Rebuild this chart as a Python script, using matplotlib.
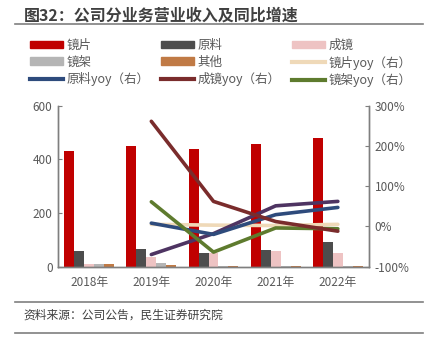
import matplotlib.pyplot as plt
import numpy as np
from matplotlib.lines import Line2D

plt.rcParams['font.family'] = ['Noto Sans CJK SC', 'DejaVu Sans']

years = ['2018年', '2019年', '2020年', '2021年', '2022年']

# 营业收入（百万元）
lens = [431, 450, 438, 457, 480]
raw = [60, 65, 50, 63, 91]
glasses = [11, 34, 52, 59, 51]
frames = [8, 12, 3, 2, 2]
others = [10, 5, 3, 3, 4]

# 同比增速（%），2019年起
lens_yoy = [5, 3, 2, 5]
raw_yoy = [8, -20, 29, 47]
glasses_yoy = [261, 62, 12, -12]
frames_yoy = [61, -64, -4, -6]
others_yoy = [-70, -18, 51, 62]

bar_names = ['镜片', '原料', '成镜', '镜架', '其他']
bar_colors = ['#C00000', '#4D4D4D', '#EEC3C3', '#B5B5B5', '#C07A45']
line_names = ['镜片yoy（右）', '原料yoy（右）', '成镜yoy（右）', '镜架yoy（右）']
line_colors = ['#EFD9B8', '#2E4B7C', '#7A2C2C', '#5E7B2E']
other_color = '#4E3462'

fig = plt.figure(figsize=(4.27, 3.44), dpi=100)
ax = fig.add_axes([0.136, 0.225, 0.728, 0.468])
ax2 = ax.twinx()

x = np.arange(len(years))
w = 0.16
for i, (vals, c) in enumerate(zip([lens, raw, glasses, frames, others], bar_colors)):
    ax.bar(x + (i - 2) * w, vals, width=w, color=c, zorder=2)

xl = x[1:]
lw = 2.6
ax2.plot(xl, lens_yoy, color=line_colors[0], lw=lw, solid_capstyle='round')
ax2.plot(xl, others_yoy, color=other_color, lw=lw, solid_capstyle='round')
ax2.plot(xl, raw_yoy, color=line_colors[1], lw=lw, solid_capstyle='round')
ax2.plot(xl, frames_yoy, color=line_colors[3], lw=lw, solid_capstyle='round')
ax2.plot(xl, glasses_yoy, color=line_colors[2], lw=lw, solid_capstyle='round')

ax.set_xlim(-0.5, 4.5)
ax.set_ylim(0, 600)
ax.set_yticks([0, 200, 400, 600])
ax2.set_ylim(-100, 300)
ax2.set_yticks([-100, 0, 100, 200, 300])
ax2.set_yticklabels([f'{v}%' for v in [-100, 0, 100, 200, 300]])
ax.set_xticks(x)
ax.set_xticklabels(years)

gray = '#7F7F7F'
for a in (ax, ax2):
    a.spines['top'].set_visible(False)
    for s in ('left', 'right', 'bottom'):
        a.spines[s].set_color(gray)
        a.spines[s].set_linewidth(1.0)
    a.tick_params(axis='y', direction='in', length=3, color=gray,
                  labelsize=8.5, labelcolor='#595959', pad=4)
ax.tick_params(axis='x', length=0, labelsize=8.5, labelcolor='#595959', pad=7)

# 图例：3列，按行排列
handles = {}
for n, c in zip(bar_names, bar_colors):
    handles[n] = plt.Rectangle((0, 0), 1, 1, color=c)
for n, c in zip(line_names, line_colors):
    handles[n] = Line2D([], [], color=c, lw=3)
order = ['镜片', '镜架', '原料yoy（右）',
         '原料', '其他', '成镜yoy（右）',
         '成镜', '镜片yoy（右）', '镜架yoy（右）']
fig.legend([handles[k] for k in order], order, ncol=3, loc='upper left',
           bbox_to_anchor=(0.044, 0.92), frameon=False, fontsize=9,
           handlelength=2.6, handleheight=0.55, columnspacing=0.95,
           labelspacing=0.3, handletextpad=0.3, labelcolor='#595959')

fig.text(0.056, 0.956, '图32：公司分业务营业收入及同比增速', fontsize=11.5,
         fontweight='bold', color='#404040', va='center')
fig.add_artist(Line2D([0.035, 0.99], [0.930, 0.930], color='#7F7F7F', lw=1.2))
fig.add_artist(Line2D([0.035, 0.99], [0.122, 0.122], color='#7F7F7F', lw=1.2))
fig.add_artist(Line2D([0.035, 0.99], [0.032, 0.032], color='#7F7F7F', lw=1.2))
fig.text(0.056, 0.084, '资料来源：公司公告，民生证券研究院', fontsize=8.5,
         color='#404040', va='center')

fig.savefig('out.png', dpi=100)
